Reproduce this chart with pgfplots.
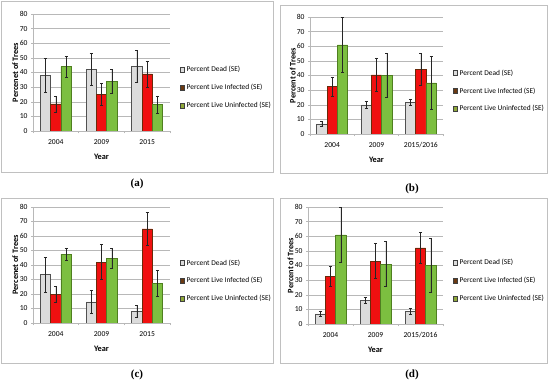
\documentclass[border=0pt]{standalone}
\usepackage{fontspec}
\setmainfont{Carlito}
\newfontfamily\capfont{Liberation Serif}
\usepackage{pgfplots}
\usepackage{pgfplotstable}
\pgfplotsset{compat=1.18}

\definecolor{cDead}{HTML}{DCDCDC}
\definecolor{cDeadE}{HTML}{505050}
\definecolor{cInf}{HTML}{F01010}
\definecolor{cInfE}{HTML}{6A2A0A}
\definecolor{cUnf}{HTML}{7CBF40}
\definecolor{cUnfE}{HTML}{4F7F20}
\definecolor{cInfL}{HTML}{6B3A12}
\definecolor{cUnfL}{HTML}{8FA83A}
\definecolor{cGrid}{HTML}{B8B8B8}
\definecolor{cFrame}{HTML}{C0C0C0}

\pgfplotstableread{
x dead deadE inf infE unf unfE
0 38 11.5 18.5 5.5 44 7
1 42 11 25 7.5 34 8
2 44 11 39 9 18 6
}\tabA
\pgfplotstableread{
x dead deadE inf infE unf unfE
0 7 2 32.5 6.5 61 19
1 20 2.5 40.5 11.5 40 15
2 21.5 2 44 11 35 18
}\tabB
\pgfplotstableread{
x dead deadE inf infE unf unfE
0 33.5 12 20 5.5 47.5 4
1 14.5 8 42 12 44.5 7
2 8 4 65 11.5 27.5 9
}\tabC
\pgfplotstableread{
x dead deadE inf infE unf unfE
0 7 2 32.5 7 61 19
1 16 2 43 12 41 15.5
2 8.5 2 52 10.5 40 18.5
}\tabD

\pgfplotsset{
  legsq/.style={legend image code/.code={\draw[fill=#1, draw=black!75, line width=0.4pt] (0pt,-2.5pt) rectangle (4.5pt,2.5pt);}},
  errb/.style={error bars/y dir=both, error bars/y explicit,
    error bars/error bar style={black!85, line width=0.5pt},
    error bars/error mark options={rotate=90, mark size=1.6pt, black!85, line width=0.5pt}},
  sDead/.style={fill=cDead, draw=cDeadE, line width=0.5pt, legsq=cDead, errb},
  sInf/.style={fill=cInf, draw=cInfE, line width=0.5pt, legsq=cInfL, errb},
  sUnf/.style={fill=cUnf, draw=cUnfE, line width=0.5pt, legsq=cUnfL, errb},
  panel/.style={
    ybar=0pt, bar width=10.3pt,
    scale only axis,
    ymin=0, ymax=80, ytick={0,10,...,80},
    xmin=-0.5, xmax=2.5,
    xtick={0,1,2},
    minor xtick={-0.5,0.5,1.5,2.5},
    axis lines*=left,
    axis line style={cGrid, line width=0.6pt},
    ymajorgrids, grid style={cGrid, line width=0.5pt},
    tick align=outside,
    major tick length=2pt, minor tick length=2.5pt,
    tick style={cGrid, line width=0.5pt},
    major x tick style={draw=none},
    tick label style={font=\fontsize{7.6}{8}\selectfont, text=black},
    /pgf/number format/assume math mode=true,
    xlabel={Year},
    label style={font=\bfseries\fontsize{8.3}{9}\selectfont},
    ylabel style={at={(axis description cs:-0.13,0.5)}, anchor=center},
    xlabel style={at={(axis description cs:0.5,-0.22)}, anchor=center},
    xticklabel style={yshift=-3pt},
    legend cell align=left,
    legend style={draw=none, fill=none, font=\fontsize{7.4}{8}\selectfont, row sep=7pt, anchor=west, inner sep=0pt},
  }
}

\begin{document}
\begin{tikzpicture}[x=1pt,y=1pt]
\useasboundingbox (0,0) rectangle (550,386);
\draw[cFrame, line width=0.6pt] (1.5,214) rectangle (273,384.5);
\draw[cFrame, line width=0.6pt] (280,213) rectangle (547,381);
\draw[cFrame, line width=0.6pt] (1.5,23) rectangle (273,188);
\draw[cFrame, line width=0.6pt] (280,23) rectangle (547,188);

% (a)
\begin{axis}[panel, at={(33pt,255pt)}, anchor=south west, width=137pt, height=117pt,
  xticklabels={2004,2009,2015}, ylabel={Percenet of Trees},
  legend style={at={(1.07,0.368)}}]
\addplot[sDead] table[x=x,y=dead,y error=deadE]{\tabA};
\addplot[sInf] table[x=x,y=inf,y error=infE]{\tabA};
\addplot[sUnf] table[x=x,y=unf,y error=unfE]{\tabA};
\legend{Percent Dead (SE), Percent Live Infected (SE), Percent Live Uninfected (SE)}
\end{axis}

% (b)
\begin{axis}[panel, at={(310pt,252pt)}, anchor=south west, width=133pt, height=117pt,
  xticklabels={2004,2009,2015/2016}, ylabel={Percent of Trees},
  legend style={at={(1.072,0.367)}}]
\addplot[sDead] table[x=x,y=dead,y error=deadE]{\tabB};
\addplot[sInf] table[x=x,y=inf,y error=infE]{\tabB};
\addplot[sUnf] table[x=x,y=unf,y error=unfE]{\tabB};
\legend{Percent Dead (SE), Percent Live Infected (SE), Percent Live Uninfected (SE)}
\end{axis}

% (c)
\begin{axis}[panel, at={(33pt,63pt)}, anchor=south west, width=137pt, height=116pt,
  xticklabels={2004,2009,2015}, ylabel={Percenet of Trees},
  legend style={at={(1.07,0.362)}}]
\addplot[sDead] table[x=x,y=dead,y error=deadE]{\tabC};
\addplot[sInf] table[x=x,y=inf,y error=infE]{\tabC};
\addplot[sUnf] table[x=x,y=unf,y error=unfE]{\tabC};
\legend{Percent Dead (SE), Percent Live Infected (SE), Percent Live Uninfected (SE)}
\end{axis}

% (d)
\begin{axis}[panel, at={(308pt,62pt)}, anchor=south west, width=135pt, height=117pt,
  xticklabels={2004,2009,2015/2016}, ylabel={Percent of Trees},
  legend style={at={(1.071,0.368)}}]
\addplot[sDead] table[x=x,y=dead,y error=deadE]{\tabD};
\addplot[sInf] table[x=x,y=inf,y error=infE]{\tabD};
\addplot[sUnf] table[x=x,y=unf,y error=unfE]{\tabD};
\legend{Percent Dead (SE), Percent Live Infected (SE), Percent Live Uninfected (SE)}
\end{axis}

\node[font=\capfont\bfseries\fontsize{11}{12}\selectfont] at (137,202) {(a)};
\node[font=\capfont\bfseries\fontsize{11}{12}\selectfont] at (412,197) {(b)};
\node[font=\capfont\bfseries\fontsize{11}{12}\selectfont] at (137,11) {(c)};
\node[font=\capfont\bfseries\fontsize{11}{12}\selectfont] at (412,11) {(d)};
\end{tikzpicture}
\end{document}
